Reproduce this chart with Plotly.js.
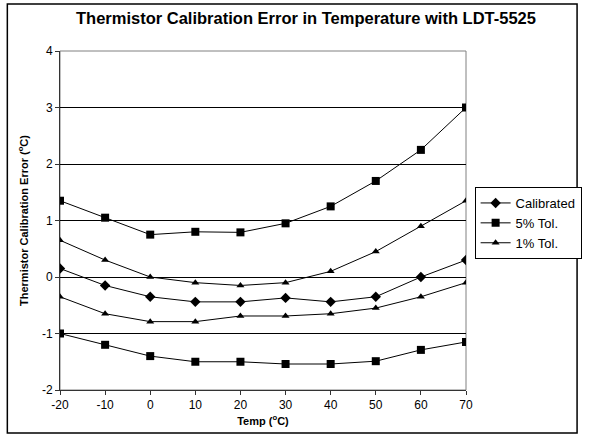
<!DOCTYPE html>
<html><head><meta charset="utf-8">
<script src="https://cdn.plot.ly/plotly-3.0.1.min.js"></script>
<style>html,body{margin:0;padding:0;background:#fff}#c{width:594px;height:435px}</style>
</head><body><div id="c"></div>
<script>
const temps = [-20, -10, 0, 10, 20, 30, 40, 50, 60, 70];
const calibrated = [0.15, -0.15, -0.35, -0.44, -0.44, -0.37, -0.44, -0.35, 0.0, 0.3];
const tol5Upper = [1.35, 1.05, 0.75, 0.8, 0.79, 0.95, 1.25, 1.7, 2.25, 3.0];
const tol5Lower = [-1.0, -1.2, -1.4, -1.5, -1.5, -1.54, -1.54, -1.49, -1.29, -1.15];
const tol1Upper = [0.65, 0.3, 0.0, -0.1, -0.15, -0.1, 0.1, 0.45, 0.9, 1.35];
const tol1Lower = [-0.35, -0.65, -0.79, -0.79, -0.69, -0.69, -0.65, -0.55, -0.35, -0.1];
const xTicks = [-20, -10, 0, 10, 20, 30, 40, 50, 60, 70];
const xTickText = ['-20', '-10', '0', '10', '20', '30', '40', '50', '60', '70'];
const yTicks = [-2, -1, 0, 1, 2, 3, 4];
const yTickText = ['-2', '-1', '0', '1', '2', '3', '4'];

function tr(y, name, sym, size, group, show) {
  return {x: temps, y: y, name: name, type: 'scatter', mode: 'lines+markers',
    line: {color: '#000', width: 1}, marker: {symbol: sym, size: size, color: '#000'},
    legendgroup: group, showlegend: show};
}
const data = [
  tr(calibrated, 'Calibrated', 'diamond', 8, 'c', true),
  tr(tol5Upper, '5% Tol.', 'square', 8, 't5', true),
  tr(tol1Upper, '1% Tol.', 'triangle-up', 7, 't1', true),
  tr(tol5Lower, '5% Tol.', 'square', 8, 't5', false),
  tr(tol1Lower, '1% Tol.', 'triangle-up', 7, 't1', false)
];
const L = 60, R = 484, T = 51, B = 390, W = 594, H = 435;
const px = v => (v - L) / (R - L), py = v => (B - v) / (B - T);
const layout = {
  width: W, height: H,
  margin: {l: L, r: W - R, t: T, b: H - B, pad: 0},
  paper_bgcolor: '#fff', plot_bgcolor: '#fff',
  font: {family: 'Liberation Sans, Arial, sans-serif', color: '#000', size: 12},
  title: {text: '<b>Thermistor Calibration Error in Temperature with LDT-5525</b>',
    font: {size: 16.5}, x: (306) / W, xanchor: 'center', y: 1 - 18 / H, yanchor: 'middle'},
  xaxis: {range: [-20, 70], tickvals: xTicks, ticktext: xTickText, ticks: 'outside', ticklen: 4, tickcolor: '#333',
    showgrid: false, zeroline: false, showline: true, linecolor: '#333', linewidth: 1,
    title: {text: '<b>Temp (<sup>o</sup>C)</b>', font: {size: 11}, standoff: 5}},
  yaxis: {range: [-2, 4], tickvals: yTicks, ticktext: yTickText, ticks: 'outside', ticklen: 4, tickcolor: '#333',
    showgrid: true, gridcolor: '#000', gridwidth: 1, zeroline: false,
    showline: true, linecolor: '#333', linewidth: 1,
    title: {text: '<b>Thermistor Calibration Error (<sup>o</sup>C)</b>', font: {size: 11}, standoff: 11}},
  legend: {x: px(493), y: py(187), xanchor: 'left', yanchor: 'top', bordercolor: '#000',
    borderwidth: 1, bgcolor: '#fff', font: {size: 13}, tracegroupgap: 0, itemwidth: 30},
  shapes: [
    {type: 'rect', xref: 'paper', yref: 'paper', x0: 0, x1: 1, y0: 0, y1: 1,
      line: {color: '#808080', width: 1}, layer: 'below'},
    {type: 'rect', xref: 'paper', yref: 'paper', x0: px(5), x1: px(600), y0: py(433), y1: py(4),
      line: {color: '#000', width: 1.5}}
  ],
  showlegend: true
};
Plotly.newPlot('c', data, layout, {displayModeBar: false, staticPlot: true});
</script></body></html>
